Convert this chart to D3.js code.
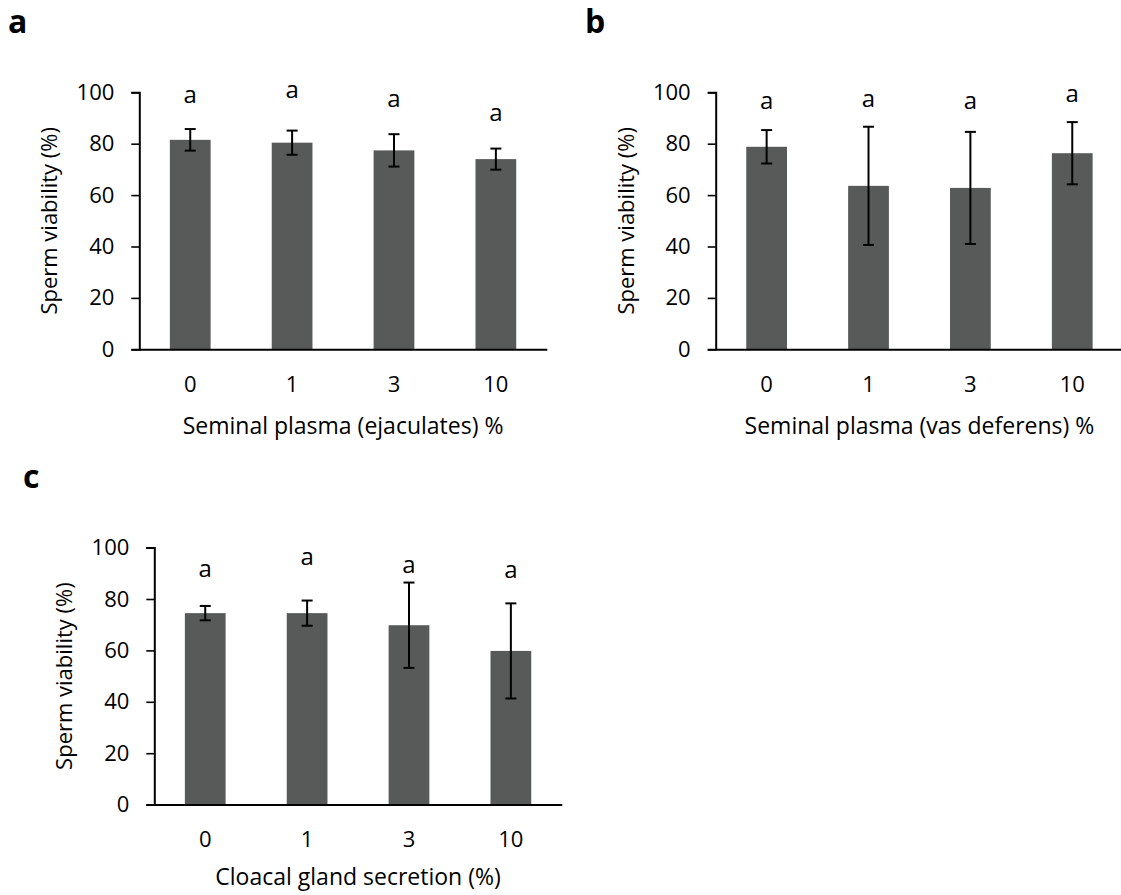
<!DOCTYPE html>
<html>
<head>
<meta charset="utf-8">
<script src="https://cdn.jsdelivr.net/npm/d3@7"></script>
<style>
  body { margin: 0; background: #fff; }
  svg text { font-family: "Open Sans", "Noto Sans", sans-serif; fill: #000; }
</style>
</head>
<body>
<div id="chart"></div>
<script>
// categories (dose, %)
const doses = ["0", "1", "3", "10"];
const yTicks = [0, 20, 40, 60, 80, 100];

// a: seminal plasma from ejaculates
const ejacMean = [81.5, 80.4, 77.4, 74.0];
const ejacErr = [4.2, 4.7, 6.3, 4.1];
const ejacLetters = ["a", "a", "a", "a"];
const ejacLetterAt = [96.0, 97.9, 94.4, 88.8];

// b: seminal plasma from vas deferens
const vasMean = [78.8, 63.6, 62.8, 76.3];
const vasErr = [6.5, 23.0, 21.8, 12.1];
const vasLetters = ["a", "a", "a", "a"];
const vasLetterAt = [93.4, 94.4, 93.4, 96.1];

// c: cloacal gland secretion
const cloMean = [74.5, 74.5, 69.8, 59.8];
const cloErr = [2.8, 4.9, 16.6, 18.5];
const cloLetters = ["a", "a", "a", "a"];
const cloLetterAt = [88.7, 93.3, 90.3, 88.1];

const W = 1121, H = 895;
const svg = d3.select("#chart").append("svg")
  .attr("width", W)
  .attr("height", H);

// plot size, same for the three panels
const width = 407.5, height = 257;

function drawPanel(left, top, tag, tagX, tagY, mean, err, letters, letterAt, xTitle, titleGap) {
  const g = svg.append("g")
    .attr("transform", `translate(${left}, ${top})`);

  const x = d3.scaleBand()
    .domain(doses)
    .range([0, width])
    .paddingInner(0.6)
    .paddingOuter(0.3);

  const y = d3.scaleLinear()
    .domain([0, 100])
    .range([height, 0]);

  const rows = doses.map((d, i) => ({dose: d, mean: mean[i], err: err[i], letter: letters[i], at: letterAt[i]}));

  // bars
  g.selectAll(".bar")
    .data(rows)
    .join("rect")
      .attr("class", "bar")
      .attr("x", d => x(d.dose))
      .attr("width", x.bandwidth())
      .attr("y", d => y(d.mean))
      .attr("height", d => height - y(d.mean))
      .style("fill", "#585a59");

  // error bars
  const eb = g.selectAll(".err")
    .data(rows)
    .join("g")
      .attr("class", "err")
      .attr("transform", d => `translate(${x(d.dose) + x.bandwidth() / 2}, 0)`);
  eb.append("line")
    .attr("y1", d => y(d.mean - d.err))
    .attr("y2", d => y(d.mean + d.err))
    .attr("stroke", "#000").attr("stroke-width", 2);
  eb.append("line")
    .attr("x1", -5.5).attr("x2", 5.5)
    .attr("y1", d => y(d.mean + d.err)).attr("y2", d => y(d.mean + d.err))
    .attr("stroke", "#000").attr("stroke-width", 2);
  eb.append("line")
    .attr("x1", -5.5).attr("x2", 5.5)
    .attr("y1", d => y(d.mean - d.err)).attr("y2", d => y(d.mean - d.err))
    .attr("stroke", "#000").attr("stroke-width", 2);

  // significance letters
  g.selectAll(".letter")
    .data(rows)
    .join("text")
      .attr("class", "letter")
      .attr("x", d => x(d.dose) + x.bandwidth() / 2)
      .attr("y", d => y(d.at))
      .attr("text-anchor", "middle")
      .style("font-size", "24px")
      .text(d => d.letter);

  // y axis
  const ya = g.append("g")
    .call(d3.axisLeft(y).tickValues(yTicks).tickSizeOuter(0).tickSize(8).tickPadding(17));
  ya.select(".domain").attr("stroke", "#000").attr("stroke-width", 2);
  ya.selectAll(".tick line").attr("stroke", "#000").attr("stroke-width", 1.6);
  ya.selectAll("text").style("font-size", "22px").style("font-family", "'Open Sans', sans-serif");

  // x axis, no tick marks
  const xa = g.append("g")
    .attr("transform", `translate(0, ${height})`)
    .call(d3.axisBottom(x).tickSize(0).tickPadding(27));
  xa.select(".domain").attr("stroke", "#000").attr("stroke-width", 2);
  xa.selectAll("text").style("font-size", "22px").style("font-family", "'Open Sans', sans-serif");

  // axis titles
  g.append("text")
    .attr("text-anchor", "middle")
    .attr("x", width / 2)
    .attr("y", height + titleGap)
    .style("font-size", "23px")
    .text(xTitle);

  g.append("text")
    .attr("text-anchor", "middle")
    .attr("transform", "rotate(-90)")
    .attr("x", -height / 2)
    .attr("y", -82)
    .style("font-size", "22px")
    .text("Sperm viability (%)");

  // panel tag
  svg.append("text")
    .attr("x", tagX)
    .attr("y", tagY)
    .style("font-size", "32px")
    .style("font-weight", "bold")
    .text(tag);
}

drawPanel(139.3, 92.3, "a", 8, 33, ejacMean, ejacErr, ejacLetters, ejacLetterAt, "Seminal plasma (ejaculates) %", 85);
drawPanel(715.7, 92.3, "b", 585, 33, vasMean, vasErr, vasLetters, vasLetterAt, "Seminal plasma (vas deferens) %", 85);
drawPanel(154.3, 547.6, "c", 23, 488, cloMean, cloErr, cloLetters, cloLetterAt, "Cloacal gland secretion (%)", 80);
</script>
</body>
</html>
